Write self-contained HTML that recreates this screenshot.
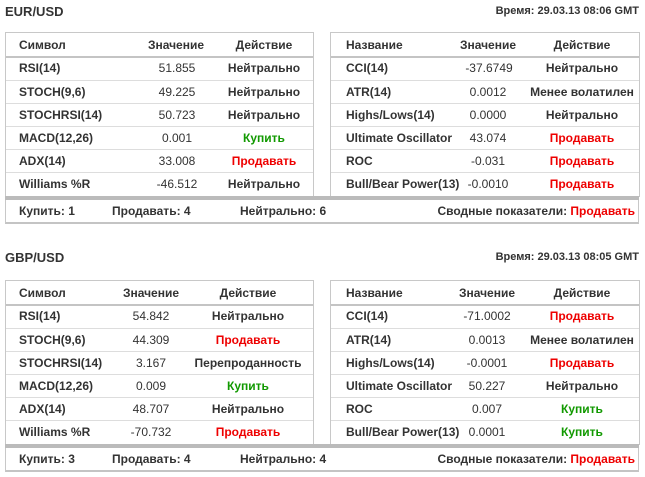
<!DOCTYPE html>
<html><head><meta charset="utf-8"><style>
body{margin:0;width:645px;height:477px;background:#fff;position:relative;font-family:"Liberation Sans",Arial,sans-serif;color:#333;font-size:12px;overflow:hidden}
.a{position:absolute;white-space:nowrap;line-height:14px}
.c{transform:translate(-50%,-50%)}
.l{transform:translateY(-50%)}
.r{transform:translate(-100%,-50%)}
.b{font-weight:bold}
.red{color:#e00;font-weight:bold}
.grn{color:#190;font-weight:bold}
.box{position:absolute;border:1px solid #c8c8c8;border-bottom:none;background:#fff}
.ln{position:absolute;height:1px;background:#ddd}
.hl{position:absolute;height:2px;background:#c4c4c4}
.thick{position:absolute;left:5px;width:634px;height:4px;background:#bbb}
.sum{position:absolute;left:5px;width:632px;border:1px solid #c8c8c8;border-top:none;border-bottom:2px solid #c4c4c4;height:22px}
.title{font-size:13px;font-weight:bold}
.time{font-size:11px;font-weight:bold}
</style></head><body>

<!-- Section 1 -->
<div class="a l title" style="left:5px;top:12px">EUR/USD</div>
<div class="a r time" style="left:639px;top:11px">Время: 29.03.13 08:06 GMT</div>
<div class="box" style="left:5px;top:32px;width:307px;height:164px"></div>
<div class="box" style="left:330px;top:32px;width:308px;height:164px"></div>
<div class="hl" style="left:6px;width:307px;top:56px"></div>
<div class="hl" style="left:331px;width:308px;top:56px"></div>
<div class="ln" style="left:6px;width:307px;top:80px"></div><div class="ln" style="left:331px;width:308px;top:80px"></div>
<div class="ln" style="left:6px;width:307px;top:103px"></div><div class="ln" style="left:331px;width:308px;top:103px"></div>
<div class="ln" style="left:6px;width:307px;top:126px"></div><div class="ln" style="left:331px;width:308px;top:126px"></div>
<div class="ln" style="left:6px;width:307px;top:149px"></div><div class="ln" style="left:331px;width:308px;top:149px"></div>
<div class="ln" style="left:6px;width:307px;top:172px"></div><div class="ln" style="left:331px;width:308px;top:172px"></div>
<div class="thick" style="top:196px"></div>
<div class="sum" style="top:200px"></div>

<div class="a l b" style="left:19px;top:45px">Символ</div>
<div class="a c b" style="left:176px;top:45px">Значение</div>
<div class="a c b" style="left:264px;top:45px">Действие</div>
<div class="a l b" style="left:19px;top:68px">RSI(14)</div><div class="a c" style="left:177px;top:68px">51.855</div><div class="a c b" style="left:264px;top:68px">Нейтрально</div>
<div class="a l b" style="left:19px;top:92px">STOCH(9,6)</div><div class="a c" style="left:177px;top:92px">49.225</div><div class="a c b" style="left:264px;top:92px">Нейтрально</div>
<div class="a l b" style="left:19px;top:115px">STOCHRSI(14)</div><div class="a c" style="left:177px;top:115px">50.723</div><div class="a c b" style="left:264px;top:115px">Нейтрально</div>
<div class="a l b" style="left:19px;top:138px">MACD(12,26)</div><div class="a c" style="left:177px;top:138px">0.001</div><div class="a c grn" style="left:264px;top:138px">Купить</div>
<div class="a l b" style="left:19px;top:161px">ADX(14)</div><div class="a c" style="left:177px;top:161px">33.008</div><div class="a c red" style="left:264px;top:161px">Продавать</div>
<div class="a l b" style="left:19px;top:184px">Williams %R</div><div class="a c" style="left:177px;top:184px">-46.512</div><div class="a c b" style="left:264px;top:184px">Нейтрально</div>

<div class="a l b" style="left:346px;top:45px">Название</div>
<div class="a c b" style="left:488px;top:45px">Значение</div>
<div class="a c b" style="left:582px;top:45px">Действие</div>
<div class="a l b" style="left:346px;top:68px">CCI(14)</div><div class="a c" style="left:489px;top:68px">-37.6749</div><div class="a c b" style="left:582px;top:68px">Нейтрально</div>
<div class="a l b" style="left:346px;top:92px">ATR(14)</div><div class="a c" style="left:488px;top:92px">0.0012</div><div class="a c b" style="left:582px;top:92px">Менее волатилен</div>
<div class="a l b" style="left:346px;top:115px">Highs/Lows(14)</div><div class="a c" style="left:488px;top:115px">0.0000</div><div class="a c b" style="left:582px;top:115px">Нейтрально</div>
<div class="a l b" style="left:346px;top:138px">Ultimate Oscillator</div><div class="a c" style="left:488px;top:138px">43.074</div><div class="a c red" style="left:582px;top:138px">Продавать</div>
<div class="a l b" style="left:346px;top:161px">ROC</div><div class="a c" style="left:488px;top:161px">-0.031</div><div class="a c red" style="left:582px;top:161px">Продавать</div>
<div class="a l b" style="left:346px;top:184px">Bull/Bear Power(13)</div><div class="a c" style="left:488px;top:184px">-0.0010</div><div class="a c red" style="left:582px;top:184px">Продавать</div>

<div class="a l b" style="left:19px;top:211px">Купить: 1</div>
<div class="a l b" style="left:112px;top:211px">Продавать: 4</div>
<div class="a l b" style="left:240px;top:211px">Нейтрально: 6</div>
<div class="a r b" style="left:635px;top:211px">Сводные показатели: <span style="color:#e00">Продавать</span></div>

<!-- Section 2 -->
<div class="a l title" style="left:5px;top:258px">GBP/USD</div>
<div class="a r time" style="left:639px;top:257px">Время: 29.03.13 08:05 GMT</div>
<div class="box" style="left:5px;top:280px;width:307px;height:164px"></div>
<div class="box" style="left:330px;top:280px;width:308px;height:164px"></div>
<div class="hl" style="left:6px;width:307px;top:304px"></div>
<div class="hl" style="left:331px;width:308px;top:304px"></div>
<div class="ln" style="left:6px;width:307px;top:328px"></div><div class="ln" style="left:331px;width:308px;top:328px"></div>
<div class="ln" style="left:6px;width:307px;top:351px"></div><div class="ln" style="left:331px;width:308px;top:351px"></div>
<div class="ln" style="left:6px;width:307px;top:374px"></div><div class="ln" style="left:331px;width:308px;top:374px"></div>
<div class="ln" style="left:6px;width:307px;top:397px"></div><div class="ln" style="left:331px;width:308px;top:397px"></div>
<div class="ln" style="left:6px;width:307px;top:420px"></div><div class="ln" style="left:331px;width:308px;top:420px"></div>
<div class="thick" style="top:444px"></div>
<div class="sum" style="top:448px"></div>

<div class="a l b" style="left:19px;top:293px">Символ</div>
<div class="a c b" style="left:151px;top:293px">Значение</div>
<div class="a c b" style="left:248px;top:293px">Действие</div>
<div class="a l b" style="left:19px;top:316px">RSI(14)</div><div class="a c" style="left:151px;top:316px">54.842</div><div class="a c b" style="left:248px;top:316px">Нейтрально</div>
<div class="a l b" style="left:19px;top:340px">STOCH(9,6)</div><div class="a c" style="left:151px;top:340px">44.309</div><div class="a c red" style="left:248px;top:340px">Продавать</div>
<div class="a l b" style="left:19px;top:363px">STOCHRSI(14)</div><div class="a c" style="left:151px;top:363px">3.167</div><div class="a c b" style="left:248px;top:363px">Перепроданность</div>
<div class="a l b" style="left:19px;top:386px">MACD(12,26)</div><div class="a c" style="left:151px;top:386px">0.009</div><div class="a c grn" style="left:248px;top:386px">Купить</div>
<div class="a l b" style="left:19px;top:409px">ADX(14)</div><div class="a c" style="left:151px;top:409px">48.707</div><div class="a c b" style="left:248px;top:409px">Нейтрально</div>
<div class="a l b" style="left:19px;top:432px">Williams %R</div><div class="a c" style="left:151px;top:432px">-70.732</div><div class="a c red" style="left:248px;top:432px">Продавать</div>

<div class="a l b" style="left:346px;top:293px">Название</div>
<div class="a c b" style="left:487px;top:293px">Значение</div>
<div class="a c b" style="left:582px;top:293px">Действие</div>
<div class="a l b" style="left:346px;top:316px">CCI(14)</div><div class="a c" style="left:487px;top:316px">-71.0002</div><div class="a c red" style="left:582px;top:316px">Продавать</div>
<div class="a l b" style="left:346px;top:340px">ATR(14)</div><div class="a c" style="left:487px;top:340px">0.0013</div><div class="a c b" style="left:582px;top:340px">Менее волатилен</div>
<div class="a l b" style="left:346px;top:363px">Highs/Lows(14)</div><div class="a c" style="left:487px;top:363px">-0.0001</div><div class="a c red" style="left:582px;top:363px">Продавать</div>
<div class="a l b" style="left:346px;top:386px">Ultimate Oscillator</div><div class="a c" style="left:487px;top:386px">50.227</div><div class="a c b" style="left:582px;top:386px">Нейтрально</div>
<div class="a l b" style="left:346px;top:409px">ROC</div><div class="a c" style="left:487px;top:409px">0.007</div><div class="a c grn" style="left:582px;top:409px">Купить</div>
<div class="a l b" style="left:346px;top:432px">Bull/Bear Power(13)</div><div class="a c" style="left:487px;top:432px">0.0001</div><div class="a c grn" style="left:582px;top:432px">Купить</div>

<div class="a l b" style="left:19px;top:459px">Купить: 3</div>
<div class="a l b" style="left:112px;top:459px">Продавать: 4</div>
<div class="a l b" style="left:240px;top:459px">Нейтрально: 4</div>
<div class="a r b" style="left:635px;top:459px">Сводные показатели: <span style="color:#e00">Продавать</span></div>
</body></html>
